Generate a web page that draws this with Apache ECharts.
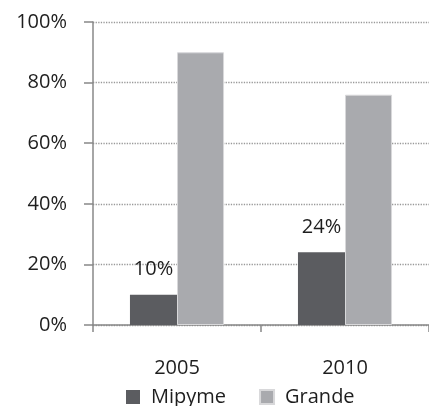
<!DOCTYPE html>
<html>
<head>
<meta charset="utf-8">
<script src="https://cdn.jsdelivr.net/npm/echarts@6/dist/echarts.min.js"></script>
<style>
  html, body { margin: 0; padding: 0; background: #fff; }
  #chart { width: 429px; height: 406px; }
</style>
</head>
<body>
<div id="chart"></div>
<script>
// datos del gráfico
var years = ['2005', '2010'];
var mipyme = [10, 24];
var grande = [90, 76];
var yTicks = [0, 20, 40, 60, 80, 100];

var font = '"Open Sans", "Liberation Sans", sans-serif';
var chart = echarts.init(document.getElementById('chart'));

var option = {
  animation: false,
  textStyle: { fontFamily: font },
  grid: { left: 93, right: 0, top: 22, bottom: 81, containLabel: false },
  legend: {
    data: ['Mipyme', 'Grande'],
    top: 382,
    left: 121,
    itemWidth: 14,
    itemHeight: 14,
    itemGap: 33,
    icon: 'rect',
    textStyle: { fontSize: 20, color: '#1e1e1e', fontFamily: font, padding: [0, 0, 0, 6] }
  },
  xAxis: {
    type: 'category',
    data: years,
    axisLine: { show: true, lineStyle: { color: '#888', width: 1.5 } },
    axisTick: { show: true, alignWithLabel: false, length: 7, lineStyle: { color: '#888', width: 1.5 } },
    axisLabel: { fontSize: 20, color: '#1e1e1e', margin: 33, fontFamily: font },
    splitLine: { show: false }
  },
  yAxis: {
    type: 'value',
    min: yTicks[0],
    max: yTicks[yTicks.length - 1],
    interval: 20,
    axisLine: { show: true, lineStyle: { color: '#888', width: 1.5 } },
    axisTick: { show: true, length: 9, lineStyle: { color: '#888', width: 1.5 } },
    axisLabel: { fontSize: 20, color: '#1e1e1e', margin: 26, formatter: '{value}%', fontFamily: font },
    splitLine: { show: true, lineStyle: { type: 'dotted', color: '#999', width: 1.3 } }
  },
  series: [
    {
      name: 'Mipyme',
      type: 'bar',
      data: mipyme,
      barGap: '0%',
      barCategoryGap: '44%',
      itemStyle: { color: '#5b5c60' },
      label: {
        show: true,
        position: 'top',
        distance: 15,
        formatter: '{c}%',
        fontSize: 20,
        color: '#1e1e1e',
        fontFamily: font
      }
    },
    {
      name: 'Grande',
      type: 'bar',
      data: grande,
      barGap: '0%',
      barCategoryGap: '44%',
      itemStyle: { color: '#a9aaae', borderColor: '#d8d8da', borderWidth: 1 }
    }
  ]
};

chart.setOption(option);
</script>
</body>
</html>
